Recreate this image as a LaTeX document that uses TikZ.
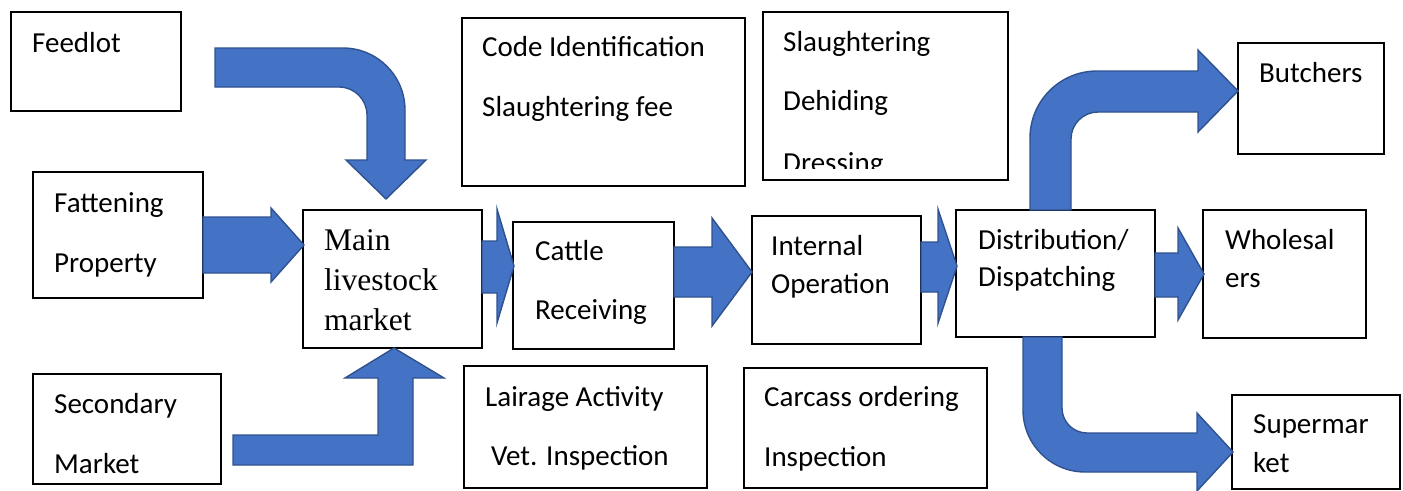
\documentclass[tikz,border=0pt]{standalone}
\usepackage{fontspec}
\setmainfont{Carlito}
\newfontfamily\timesf{Liberation Serif}
\definecolor{arrowfill}{HTML}{4472C4}
\definecolor{arrowline}{HTML}{2F528F}
\tikzset{
  box/.style={draw=black, line width=1.6pt, fill=white, inner sep=0pt},
  txt/.style={anchor=base west, inner sep=0pt, font=\fontsize{29}{34}\selectfont},
  serif/.style={anchor=base west, inner sep=0pt, font=\timesf\fontsize{31.5}{36}\selectfont},
  blockarrow/.style={fill=arrowfill, draw=arrowline, line width=1.4pt, line join=miter}
}
\newcommand{\boxnode}[5]{\node[box, minimum width={#4-#2}, minimum height={#5-#3}] (#1) at ({(#2+#4)/2},{(#3+#5)/2}) {};}
\begin{document}
\begin{tikzpicture}[x=1pt, y=-1pt]
\useasboundingbox (0,0) rectangle (1403,490);
\fill[white] (0,0) rectangle (1403,490);

% boxes
\boxnode{feed}{11}{12}{181}{111}
\boxnode{fat}{33}{172}{203}{298}
\boxnode{sec}{33}{374}{221}{484}
\boxnode{main}{303}{210}{482}{348}
\boxnode{code}{462}{18}{745}{186}
\boxnode{slau}{763}{12}{1008}{180}
\boxnode{cattle}{513}{222}{674}{349}
\boxnode{intern}{752}{216}{921}{344}
\boxnode{dist}{956}{210}{1155}{337}
\boxnode{lair}{464}{366}{707}{488}
\boxnode{carc}{744}{368}{987}{488}
\boxnode{butch}{1238}{43}{1384}{154}
\boxnode{whole}{1203}{210}{1366}{338}
\boxnode{super}{1232}{395}{1400}{489}

% texts
\node[txt] (tfeed) at (32,52) {Feedlot};
\node[txt] (tfat1) at (54,212) {Fattening};
\node[txt] (tfat2) at (54,272) {Property};
\node[txt] (tsec1) at (54,413) {Secondary};
\node[txt] (tsec2) at (54,473) {Market};
\node[serif] (tmain1) at (324,250) {Main};
\node[serif] (tmain2) at (324,290) {livestock};
\node[serif] (tmain3) at (324,330) {market};
\node[txt] (tcode1) at (482,56) {Code Identification};
\node[txt] (tcode2) at (482,116) {Slaughtering fee};
\node[txt] (tslau1) at (783,51) {Slaughtering};
\node[txt] (tslau2) at (783,110) {Dehiding};
\begin{scope}
\clip (763,12) rectangle (1008,168);
\node[txt] (tslau3) at (783,172) {Dressing};
\end{scope}
\node[txt] (tcat1) at (535,260) {Cattle};
\node[txt] (tcat2) at (535,319) {Receiving};
\node[txt] (tint1) at (771,255) {Internal};
\node[txt] (tint2) at (771,293) {Operation};
\node[txt] (tdist1) at (978,249) {Distribution/};
\node[txt] (tdist2) at (978,286) {Dispatching};
\node[txt] (tlair1) at (485,406) {Lairage Activity};
\node[txt] (tlair2) at (491,465) {Vet. Inspection};
\node[txt] (tcarc1) at (764,406) {Carcass ordering};
\node[txt] (tcarc2) at (764,466) {Inspection};
\node[txt] (tbut) at (1259,82) {Butchers};
\node[txt] (twh1) at (1225,249) {Wholesal};
\node[txt] (twh2) at (1225,287) {ers};
\node[txt] (tsup1) at (1253,433) {Supermar};
\node[txt] (tsup2) at (1253,472) {ket};

% straight block arrows
\draw[blockarrow] (203,217) -- (271,217) -- (271,208) -- (304,245) -- (271,282) -- (271,273) -- (203,273) -- cycle;
\draw[blockarrow] (482,241) -- (497,241) -- (497,209) -- (514,266) -- (497,323) -- (497,293) -- (482,293) -- cycle;
\draw[blockarrow] (674,247) -- (712,247) -- (712,218) -- (752,272) -- (712,326) -- (712,297) -- (674,297) -- cycle;
\draw[blockarrow] (921,242) -- (938,242) -- (938,209) -- (957,266) -- (938,323) -- (938,292) -- (921,292) -- cycle;
\draw[blockarrow] (1155,253) -- (1178,253) -- (1178,228) -- (1204,274) -- (1178,320) -- (1178,297) -- (1155,297) -- cycle;

% bent arrow feedlot -> main
\draw[blockarrow] (215,48) -- (343,48) .. controls (377.2,48) and (405,75.8) .. (405,110)
  -- (405,160) -- (426,160) -- (386,199) -- (346,160) -- (367,160) -- (367,115)
  .. controls (367,99.5) and (354.5,87) .. (339,87) -- (215,87) -- cycle;

% bent arrow secondary -> main
\draw[blockarrow] (233,435) -- (378,435) -- (378,378) -- (345,378) -- (394,348) -- (444,378)
  -- (413,378) -- (413,465) -- (233,465) -- cycle;

% bent arrow dist -> butchers
\draw[blockarrow] (1030,210) -- (1030,138) .. controls (1030,101) and (1060,71) .. (1097,71)
  -- (1198,71) -- (1198,50) -- (1238,91) -- (1198,132) -- (1198,112) -- (1098,112)
  .. controls (1083.1,112) and (1071,124.1) .. (1071,139) -- (1071,210) -- cycle;

% bent arrow dist -> supermarket
\draw[blockarrow] (1023,337) -- (1023,410) .. controls (1023,444.2) and (1050.8,472) .. (1085,472)
  -- (1197,472) -- (1197,491) -- (1233,452) -- (1197,413) -- (1197,433) -- (1087,433)
  .. controls (1073.2,433) and (1062,421.8) .. (1062,408) -- (1062,337) -- cycle;
\end{tikzpicture}
\end{document}
